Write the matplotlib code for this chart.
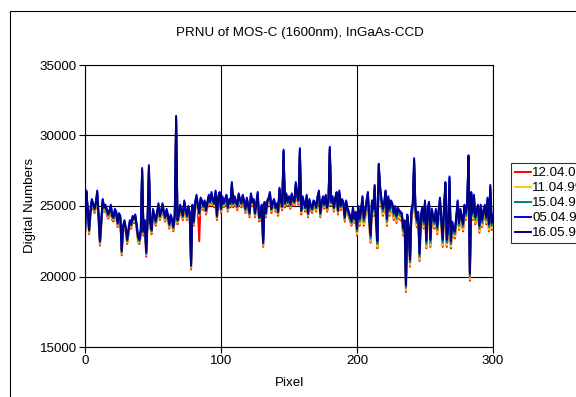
import matplotlib
matplotlib.use('Agg')
import matplotlib.pyplot as plt
from matplotlib.patches import Rectangle
import pandas as pd

plt.rcParams['font.family'] = ['Liberation Sans', 'DejaVu Sans']

# pixel index 0..300 along the CCD line
pixel = list(range(301))

prnu_120400 = [
    22800, 25700, 24500, 23000, 24300, 25100, 24800, 24500, 24900, 25700,
    24000, 22200, 23700, 25100, 24600, 24700, 24400, 24100, 24300, 24700,
    24000, 23900, 24400, 24200, 23500, 24100, 23900, 21500, 23200, 23600,
    23100, 22300, 23000, 23600, 23400, 23900, 23800, 24000, 23300, 22500,
    22300, 22900, 27300, 22900, 23600, 21400, 23700, 27500, 23500, 23000,
    24400, 24000, 23600, 24200, 24800, 24000, 24300, 24800, 24200, 23900,
    24400, 24000, 23400, 24000, 23700, 23200, 24000, 31000, 23700, 24100,
    24700, 24300, 24000, 25000, 24400, 24000, 24600, 24200, 20500, 24700,
    23600, 24900, 25400, 24700, 22500, 25200, 25000, 24700, 25000, 24400,
    24900, 25400, 25000, 25600, 25100, 24900, 25700, 24000, 25300, 25600,
    24500, 25300, 24900, 25100, 25400, 24600, 25100, 24900, 26300, 24900,
    25300, 25000, 24700, 25500, 25100, 24900, 25400, 25000, 24500, 25200,
    24700, 24200, 25500, 25000, 25100, 24200, 24900, 25600, 23900, 24000,
    24700, 22100, 24900, 24200, 25000, 25200, 25600, 24500, 24900, 25100,
    24600, 24800, 24300, 25900, 25100, 24700, 28600, 24900, 25500, 25000,
    25300, 24800, 25500, 25100, 25000, 26300, 25400, 25100, 28700, 24400,
    25300, 24900, 24600, 25400, 24200, 25100, 24700, 24500, 25000, 24900,
    24600, 25300, 25700, 24200, 24900, 25300, 24800, 25400, 24600, 25000,
    28800, 25000, 25300, 24600, 25200, 25600, 24400, 25700, 24700, 25100,
    24900, 23900, 25000, 24500, 24200, 23900, 23600, 24500, 23800, 24200,
    22900, 24400, 23600, 24200, 25100, 23600, 24100, 24800, 25400, 23600,
    22400, 24800, 24300, 25900, 23500, 22000, 27400, 25800, 24900, 24300,
    24700, 25500, 23600, 25100, 24300, 24800, 24600, 24000, 24400, 23800,
    24300, 24100, 24000, 23900, 22900, 23400, 18900, 23800, 23000, 20700,
    24100, 24600, 27800, 24300, 23500, 24000, 21100, 23800, 24300, 23400,
    24800, 22000, 24300, 24700, 22100, 24200, 23700, 23400, 24200, 23000,
    24100, 25000, 23600, 22100, 24400, 26100, 22100, 22900, 26500, 22000,
    23300, 22800, 22700, 23700, 24800, 23300, 24200, 23700, 23200, 24500,
    24000, 24600, 28000, 19700, 25400, 24000, 25200, 23700, 24100, 24500,
    23100, 24500, 23500, 24100, 24500, 23700, 25000, 23200, 25900, 23300,
    23800]

prnu_110499 = [
    22900, 25800, 24600, 23100, 24400, 25200, 24900, 24600, 25000, 25800,
    24100, 22300, 23800, 25200, 24700, 24800, 24500, 24200, 24400, 24800,
    24100, 24000, 24500, 24300, 23600, 24200, 24000, 21600, 23300, 23700,
    23200, 22400, 23100, 23700, 23500, 24000, 23900, 24100, 23400, 22600,
    22400, 23000, 27400, 23000, 23700, 21500, 23800, 27600, 23600, 23100,
    24500, 24100, 23700, 24300, 24900, 24100, 24400, 24900, 24300, 24000,
    24500, 24100, 23500, 24100, 23800, 23300, 24100, 31100, 23800, 24200,
    24800, 24400, 24100, 25100, 24500, 24100, 24700, 24300, 20600, 24800,
    23700, 25000, 25500, 24800, 24300, 25300, 25100, 24800, 25100, 24500,
    25000, 25500, 25100, 25700, 25200, 25000, 25800, 24100, 25400, 25700,
    24600, 25400, 25000, 25200, 25500, 24700, 25200, 25000, 26400, 25000,
    25400, 25100, 24800, 25600, 25200, 25000, 25500, 25100, 24600, 25300,
    24800, 24300, 25600, 25100, 25200, 24300, 25000, 25700, 24000, 24100,
    24800, 22200, 25000, 24300, 25100, 25300, 25700, 24600, 25000, 25200,
    24700, 24900, 24400, 26000, 25200, 24800, 28700, 25000, 25600, 25100,
    25400, 24900, 25600, 25200, 25100, 26400, 25500, 25200, 28800, 24500,
    25400, 25000, 24700, 25500, 24300, 25200, 24800, 24600, 25100, 25000,
    24700, 25400, 25800, 24300, 25000, 25400, 24900, 25500, 24700, 25100,
    28900, 25100, 25400, 24700, 25300, 25700, 24500, 25800, 24800, 25200,
    25000, 24000, 25100, 24600, 24300, 24000, 23700, 24600, 23900, 24300,
    23000, 24500, 23700, 24300, 25200, 23700, 24200, 24900, 25500, 23700,
    22500, 24900, 24400, 26000, 23600, 22100, 27500, 25900, 25000, 24400,
    24800, 25600, 23700, 25200, 24400, 24900, 24700, 24100, 24500, 23900,
    24400, 24200, 24100, 24000, 23000, 23500, 19000, 23900, 23100, 20800,
    24200, 24700, 27900, 24400, 23600, 24100, 21200, 23900, 24400, 23500,
    24900, 22100, 24400, 24800, 22200, 24300, 23800, 23500, 24300, 23100,
    24200, 25100, 23700, 22200, 24500, 26200, 22200, 23000, 26600, 22100,
    23400, 22900, 22800, 23800, 24900, 23400, 24300, 23800, 23300, 24600,
    24100, 24700, 28100, 19800, 25500, 24100, 25300, 23800, 24200, 24600,
    23200, 24600, 23600, 24200, 24600, 23800, 25100, 23300, 26000, 23400,
    23900]

prnu_150498 = [
    23000, 25900, 24700, 23200, 24500, 25300, 25000, 24700, 25100, 25900,
    24200, 22400, 23900, 25300, 24800, 24900, 24600, 24300, 24500, 24900,
    24200, 24100, 24600, 24400, 23700, 24300, 24100, 21700, 23400, 23800,
    23300, 22500, 23200, 23800, 23600, 24100, 24000, 24200, 23500, 22700,
    22500, 23100, 27500, 23100, 23800, 21600, 23900, 27700, 23700, 23200,
    24600, 24200, 23800, 24400, 25000, 24200, 24500, 25000, 24400, 24100,
    24600, 24200, 23600, 24200, 23900, 23400, 24200, 31200, 23900, 24300,
    24900, 24500, 24200, 25200, 24600, 24200, 24800, 24400, 20700, 24900,
    23800, 25100, 25600, 24900, 24400, 25400, 25200, 24900, 25200, 24600,
    25100, 25600, 25200, 25800, 25300, 25100, 25900, 24200, 25500, 25800,
    24700, 25500, 25100, 25300, 25600, 24800, 25300, 25100, 26500, 25100,
    25500, 25200, 24900, 25700, 25300, 25100, 25600, 25200, 24700, 25400,
    24900, 24400, 25700, 25200, 25300, 24400, 25100, 25800, 24100, 24200,
    24900, 22300, 25100, 24400, 25200, 25400, 25800, 24700, 25100, 25300,
    24800, 25000, 24500, 26100, 25300, 24900, 28800, 25100, 25700, 25200,
    25500, 25000, 25700, 25300, 25200, 26500, 25600, 25300, 28900, 24600,
    25500, 25100, 24800, 25600, 24400, 25300, 24900, 24700, 25200, 25100,
    24800, 25500, 25900, 24400, 25100, 25500, 25000, 25600, 24800, 25200,
    29000, 25200, 25500, 24800, 25400, 25800, 24600, 25900, 24900, 25300,
    25100, 24100, 25200, 24700, 24400, 24100, 23800, 24700, 24000, 24400,
    23200, 24700, 23900, 24500, 25400, 23900, 24400, 25100, 25700, 23900,
    22700, 25100, 24600, 26200, 23800, 22300, 27700, 26100, 25200, 24600,
    25000, 25800, 23900, 25400, 24600, 25100, 24900, 24300, 24700, 24100,
    24600, 24400, 24300, 24200, 23200, 23700, 19200, 24100, 23300, 21000,
    24400, 24900, 28100, 24600, 23800, 24300, 21400, 24100, 24600, 23700,
    25100, 22300, 24600, 25000, 22400, 24500, 24000, 23700, 24500, 23300,
    24400, 25300, 23900, 22400, 24700, 26400, 22400, 23200, 26800, 22300,
    23600, 23100, 23000, 24000, 25100, 23600, 24500, 24000, 23500, 24800,
    24300, 24900, 28300, 20000, 25700, 24300, 25500, 24000, 24400, 24800,
    23400, 24800, 23800, 24400, 24800, 24000, 25300, 23500, 26200, 23600,
    24100]

prnu_050497 = [
    23200, 26100, 24900, 23400, 24700, 25500, 25200, 24900, 25300, 26100,
    24400, 22600, 24100, 25500, 25000, 25100, 24800, 24500, 24700, 25100,
    24400, 24300, 24800, 24600, 23900, 24500, 24300, 21900, 23600, 24000,
    23500, 22700, 23400, 24000, 23800, 24300, 24200, 24400, 23700, 22900,
    22700, 23300, 27700, 23300, 24000, 21800, 24100, 27900, 23900, 23400,
    24800, 24400, 24000, 24600, 25200, 24400, 24700, 25200, 24600, 24300,
    24800, 24400, 23800, 24400, 24100, 23600, 24400, 31400, 24100, 24500,
    25100, 24700, 24400, 25400, 24800, 24400, 25000, 24600, 20900, 25100,
    24000, 25300, 25800, 25100, 24600, 25600, 25400, 25100, 25400, 24800,
    25300, 25800, 25400, 26000, 25500, 25300, 26100, 24400, 25700, 26000,
    24900, 25700, 25300, 25500, 25800, 25000, 25500, 25300, 26700, 25300,
    25700, 25400, 25100, 25900, 25500, 25300, 25800, 25400, 24900, 25600,
    25100, 24600, 25900, 25400, 25500, 24600, 25300, 26000, 24300, 24400,
    25100, 22500, 25300, 24600, 25400, 25600, 26000, 24900, 25300, 25500,
    25000, 25200, 24700, 26300, 25500, 25100, 29000, 25300, 25900, 25400,
    25700, 25200, 25900, 25500, 25400, 26700, 25800, 25500, 29100, 24800,
    25700, 25300, 25000, 25800, 24600, 25500, 25100, 24900, 25400, 25300,
    25000, 25700, 26100, 24600, 25300, 25700, 25200, 25800, 25000, 25400,
    29200, 25400, 25700, 25000, 25600, 26000, 24800, 26100, 25100, 25500,
    25300, 24300, 25400, 24900, 24600, 24300, 24000, 24900, 24200, 24600,
    23500, 25000, 24200, 24800, 25700, 24200, 24700, 25400, 26000, 24200,
    23000, 25400, 24900, 26500, 24100, 22600, 28000, 26400, 25500, 24900,
    25300, 26100, 24200, 25700, 24900, 25400, 25200, 24600, 25000, 24400,
    24900, 24700, 24600, 24500, 23500, 24000, 19500, 24400, 23600, 21300,
    24700, 25200, 28400, 24900, 24100, 24600, 21700, 24400, 24900, 24000,
    25400, 22600, 24900, 25300, 22700, 24800, 24300, 24000, 24800, 23600,
    24700, 25600, 24200, 22700, 25000, 26700, 22700, 23500, 27100, 22600,
    23900, 23400, 23300, 24300, 25400, 23900, 24800, 24300, 23800, 25100,
    24600, 25200, 28600, 20300, 26000, 24600, 25800, 24300, 24700, 25100,
    23700, 25100, 24100, 24700, 25100, 24300, 25600, 23800, 26500, 23900,
    24400]

prnu_160596 = [
    23100, 26000, 24800, 23300, 24600, 25400, 25100, 24800, 25200, 26000,
    24300, 22500, 24000, 25400, 24900, 25000, 24700, 24400, 24600, 25000,
    24300, 24200, 24700, 24500, 23800, 24400, 24200, 21800, 23500, 23900,
    23400, 22600, 23300, 23900, 23700, 24200, 24100, 24300, 23600, 22800,
    22600, 23200, 27600, 23200, 23900, 21700, 24000, 27800, 23800, 23300,
    24700, 24300, 23900, 24500, 25100, 24300, 24600, 25100, 24500, 24200,
    24700, 24300, 23700, 24300, 24000, 23500, 24300, 31300, 24000, 24400,
    25000, 24600, 24300, 25300, 24700, 24300, 24900, 24500, 20800, 25000,
    23900, 25200, 25700, 25000, 24500, 25500, 25300, 25000, 25300, 24700,
    25200, 25700, 25300, 25900, 25400, 25200, 26000, 24300, 25600, 25900,
    24800, 25600, 25200, 25400, 25700, 24900, 25400, 25200, 26600, 25200,
    25600, 25300, 25000, 25800, 25400, 25200, 25700, 25300, 24800, 25500,
    25000, 24500, 25800, 25300, 25400, 24500, 25200, 25900, 24200, 24300,
    25000, 22400, 25200, 24500, 25300, 25500, 25900, 24800, 25200, 25400,
    24900, 25100, 24600, 26200, 25400, 25000, 28900, 25200, 25800, 25300,
    25600, 25100, 25800, 25400, 25300, 26600, 25700, 25400, 29000, 24700,
    25600, 25200, 24900, 25700, 24500, 25400, 25000, 24800, 25300, 25200,
    24900, 25600, 26000, 24500, 25200, 25600, 25100, 25700, 24900, 25300,
    29100, 25300, 25600, 24900, 25500, 25900, 24700, 26000, 25000, 25400,
    25200, 24200, 25300, 24800, 24500, 24200, 23900, 24800, 24100, 24500,
    23400, 24900, 24100, 24700, 25600, 24100, 24600, 25300, 25900, 24100,
    22900, 25300, 24800, 26400, 24000, 22500, 27900, 26300, 25400, 24800,
    25200, 26000, 24100, 25600, 24800, 25300, 25100, 24500, 24900, 24300,
    24800, 24600, 24500, 24400, 23400, 23900, 19400, 24300, 23500, 21200,
    24600, 25100, 28300, 24800, 24000, 24500, 21600, 24300, 24800, 23900,
    25300, 22500, 24800, 25200, 22600, 24700, 24200, 23900, 24700, 23500,
    24600, 25500, 24100, 22600, 24900, 26600, 22600, 23400, 27000, 22500,
    23800, 23300, 23200, 24200, 25300, 23800, 24700, 24200, 23700, 25000,
    24500, 25100, 28500, 20200, 25900, 24500, 25700, 24200, 24600, 25000,
    23600, 25000, 24000, 24600, 25000, 24200, 25500, 23700, 26400, 23800,
    24300]

dates = ['12.04.00', '11.04.99', '15.04.98', '05.04.97', '16.05.96']
colors = ['#FF0000', '#FFCC00', '#008080', '#0000FF', '#000080']

df = pd.DataFrame({'12.04.00': prnu_120400, '11.04.99': prnu_110499,
                   '15.04.98': prnu_150498, '05.04.97': prnu_050497,
                   '16.05.96': prnu_160596}, index=pixel)

fig = plt.figure(figsize=(5.76, 3.97), dpi=100, facecolor='w')
# excel-ish chart border, runs off the right and bottom
fig.patches.append(Rectangle((10 / 576, -0.1), 1.5, 1.1 - 11 / 397,
                             transform=fig.transFigure, fill=False,
                             edgecolor='black', lw=0.8))

ax = fig.add_axes([85 / 576, 1 - 347 / 397, 408 / 576, 282 / 397])
for d, c in zip(dates, colors):
    ax.plot(df.index, df[d], color=c, lw=1.4, label=d)

ax.set_xlim(0, 300)
ax.set_ylim(15000, 35000)
ax.set_xticks([0, 100, 200, 300])
ax.set_yticks(range(15000, 35001, 5000))
ax.grid(True, color='black', lw=0.8)
ax.set_axisbelow(True)
ax.tick_params(direction='out', length=4, width=0.8, labelsize=9.6, pad=2)
for s in ax.spines.values():
    s.set_linewidth(0.8)

fig.text(300 / 576, 1 - 33 / 397, 'PRNU of MOS-C (1600nm), InGaAs-CCD',
         ha='center', va='center', fontsize=9.6)
fig.text(289 / 576, 1 - 383 / 397, 'Pixel', ha='center', va='center', fontsize=9.6)
fig.text(30 / 576, 1 - 205 / 397, 'Digital Numbers', ha='center', va='center',
         rotation=90, fontsize=9.6)

# legend sits at the right edge and is clipped by the figure, as in the original
leg = fig.legend(loc='upper left', bbox_to_anchor=(511 / 576, 1 - 163 / 397),
                 fontsize=9.6, handlelength=1.2, handletextpad=0.1,
                 labelspacing=0.2, borderpad=0.3, borderaxespad=0,
                 fancybox=False)
leg.get_frame().set_edgecolor('black')
leg.get_frame().set_linewidth(0.8)

fig.savefig('out.png', dpi=100, facecolor='w')
